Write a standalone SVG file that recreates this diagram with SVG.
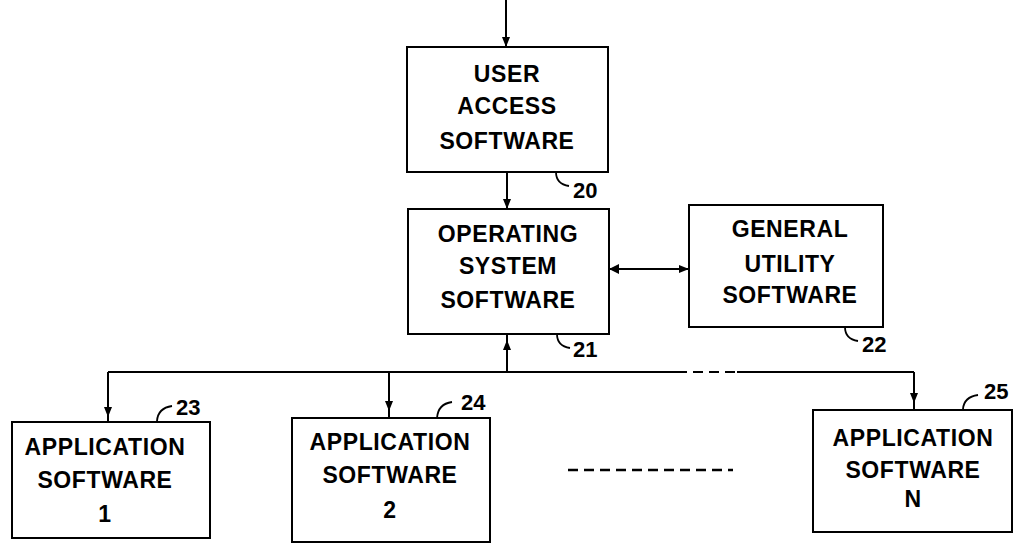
<svg xmlns="http://www.w3.org/2000/svg" width="1013" height="548" viewBox="0 0 1013 548">
<style>
.box{fill:#fff;stroke:#000;stroke-width:2}
.t{font-family:"Liberation Sans",Arial,sans-serif;font-size:23px;font-weight:bold;fill:#000;text-anchor:middle;letter-spacing:0.6px}
.n{font-family:"Liberation Sans",Arial,sans-serif;font-size:22px;font-weight:bold;fill:#000}
.ln{fill:none;stroke:#000;stroke-width:2}
.ld{fill:none;stroke:#000;stroke-width:1.8}
</style>
<defs>
<marker id="ah" viewBox="0 0 10 10" refX="10" refY="5" markerWidth="10" markerHeight="10" markerUnits="userSpaceOnUse" orient="auto">
<path d="M0,1 L10,5 L0,9 Z" fill="#000"/>
</marker>
<marker id="am" viewBox="0 0 10 10" refX="5" refY="5" markerWidth="10" markerHeight="10" markerUnits="userSpaceOnUse" orient="auto">
<path d="M0,1 L10,5 L0,9 Z" fill="#000"/>
</marker>
</defs>
<g id="connectors">
<path class="ln" d="M506,0 L506,47" marker-end="url(#ah)"/>
<path class="ln" d="M507,172 L507,209" marker-end="url(#ah)"/>
<path class="ln" d="M609,269 L689,269" marker-end="url(#ah)"/>
<path d="M619,264 L609,269 L619,274 Z" fill="#000"/>
<path class="ln" d="M507,372 L507,345 L507,334" marker-mid="url(#am)"/>
<path class="ln" d="M108,372 L677,372"/>
<path class="ln" d="M677,372 L737,372" stroke-dasharray="10,6"/>
<path class="ln" d="M737,372 L914,372"/>
<path class="ln" d="M108,372 L108,412 L108,422" marker-mid="url(#am)"/>
<path class="ln" d="M389,372 L389,406 L389,418" marker-mid="url(#am)"/>
<path class="ln" d="M914,372 L914,398 L914,410" marker-mid="url(#am)"/>
<path d="M568,470 L733,470" fill="none" stroke="#000" stroke-width="2.5" stroke-dasharray="10,6"/>
</g>
<g id="n20">
<rect class="box" x="407" y="47" width="201" height="125"/>
<text class="t" x="507" y="82">USER</text>
<text class="t" x="507" y="114">ACCESS</text>
<text class="t" x="507" y="149">SOFTWARE</text>
<path class="ld" d="M556,172 Q556,184 569,186"/>
<text class="n" x="573" y="198">20</text>
</g>
<g id="n21">
<rect class="box" x="408" y="209" width="201" height="125"/>
<text class="t" x="508" y="242">OPERATING</text>
<text class="t" x="508" y="274">SYSTEM</text>
<text class="t" x="508" y="308">SOFTWARE</text>
<path class="ld" d="M557,334 Q557,346 570,348"/>
<text class="n" x="573" y="357">21</text>
</g>
<g id="n22">
<rect class="box" x="689" y="205" width="194" height="122"/>
<text class="t" x="790" y="237">GENERAL</text>
<text class="t" x="790" y="272">UTILITY</text>
<text class="t" x="790" y="303">SOFTWARE</text>
<path class="ld" d="M845,327 Q845,339 858,341"/>
<text class="n" x="862" y="352">22</text>
</g>
<g id="n23">
<rect class="box" x="12" y="422" width="198" height="116"/>
<text class="t" x="105" y="455">APPLICATION</text>
<text class="t" x="105" y="488">SOFTWARE</text>
<text class="t" x="105" y="522">1</text>
<path class="ld" d="M157,421 Q158,408 172,406"/>
<text class="n" x="176" y="415">23</text>
</g>
<g id="n24">
<rect class="box" x="292" y="418" width="198" height="124"/>
<text class="t" x="390" y="450">APPLICATION</text>
<text class="t" x="390" y="483">SOFTWARE</text>
<text class="t" x="390" y="518">2</text>
<path class="ld" d="M437,418 Q438,404 452,402"/>
<text class="n" x="461" y="410">24</text>
</g>
<g id="n25">
<rect class="box" x="813" y="410" width="199" height="122"/>
<text class="t" x="913" y="446">APPLICATION</text>
<text class="t" x="913" y="478">SOFTWARE</text>
<text class="t" x="913" y="507">N</text>
<path class="ld" d="M963,409 Q964,397 978,395"/>
<text class="n" x="984" y="399">25</text>
</g>
</svg>
